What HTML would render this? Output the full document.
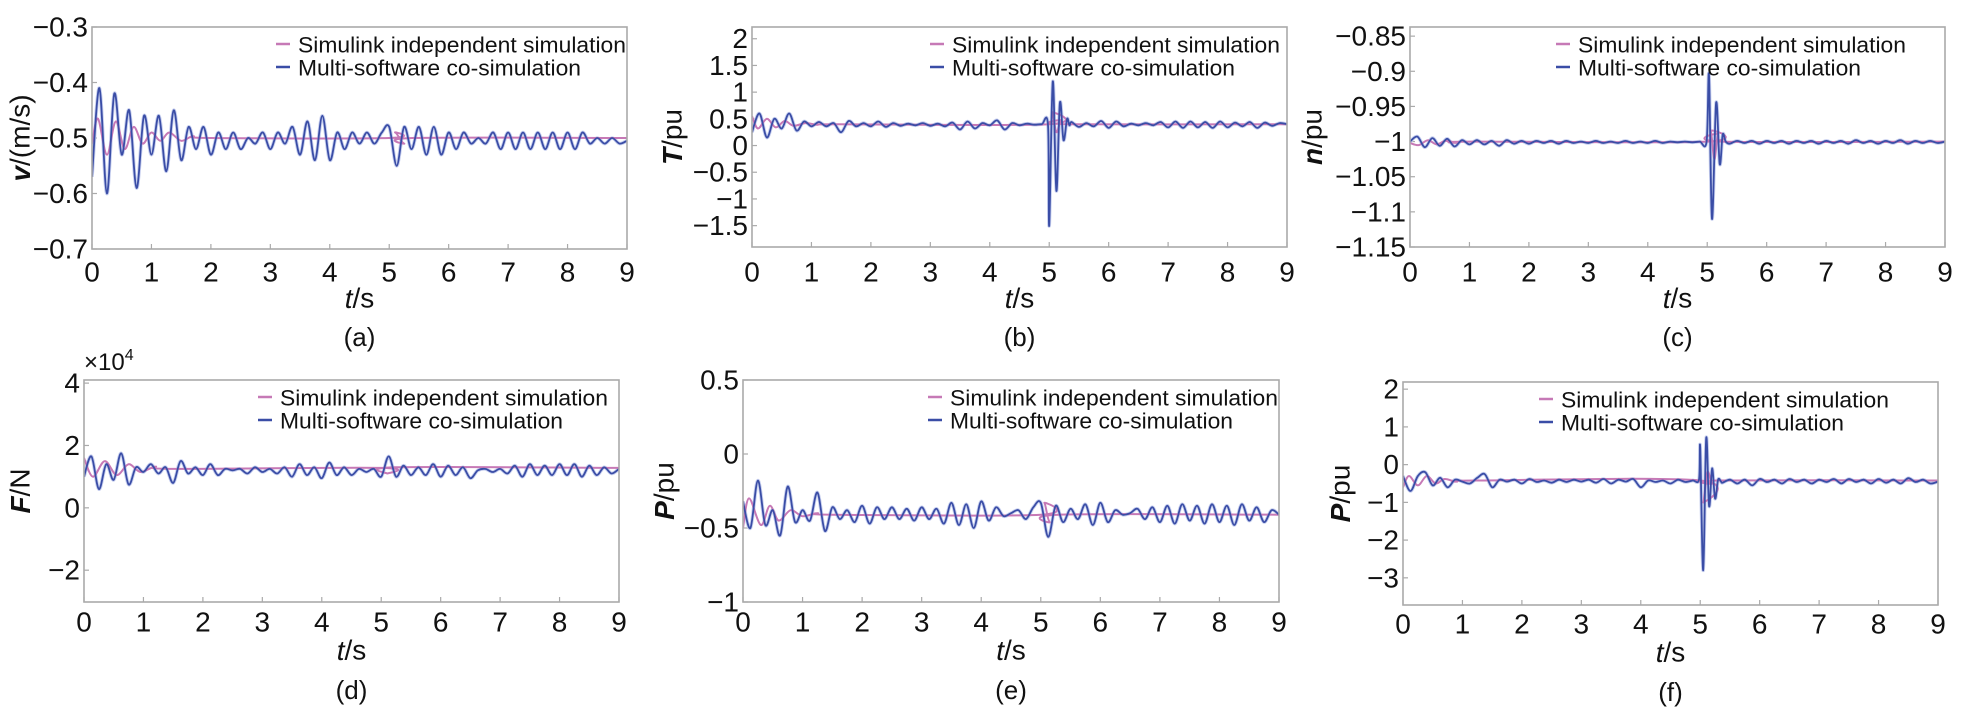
<!DOCTYPE html>
<html><head><meta charset="utf-8"><style>
html,body{margin:0;padding:0;background:#fff;}
svg{display:block;font-family:"Liberation Sans",sans-serif;}
</style></head><body>
<svg id="fig" width="1968" height="710" viewBox="0 0 1968 710" xmlns="http://www.w3.org/2000/svg"></svg>
<script>
// shared time grid (s)
const times = [0,0.125,0.25,0.375,0.5,0.625,0.75,0.875,1,1.125,1.25,1.375,1.5,1.625,1.75,1.875,2,2.125,2.25,2.375,2.5,2.625,2.75,2.875,3,3.125,3.25,3.375,3.5,3.625,3.75,3.875,4,4.125,4.25,4.375,4.5,4.625,4.75,4.875,5,5.125,5.25,5.375,5.5,5.625,5.75,5.875,6,6.125,6.25,6.375,6.5,6.625,6.75,6.875,7,7.125,7.25,7.375,7.5,7.625,7.75,7.875,8,8.125,8.25,8.375,8.5,8.625,8.75,8.875,9];
const xTicks = [0,1,2,3,4,5,6,7,8,9];

// (a) velocity
const aBlue = [-0.57,-0.41,-0.60,-0.42,-0.53,-0.45,-0.59,-0.46,-0.53,-0.46,-0.56,-0.45,-0.54,-0.48,-0.52,-0.48,-0.53,-0.49,-0.52,-0.49,-0.52,-0.50,-0.51,-0.49,-0.52,-0.49,-0.51,-0.48,-0.53,-0.47,-0.54,-0.46,-0.54,-0.49,-0.52,-0.49,-0.51,-0.49,-0.51,-0.49,-0.48,-0.55,-0.48,-0.52,-0.48,-0.53,-0.48,-0.53,-0.49,-0.52,-0.49,-0.51,-0.50,-0.51,-0.49,-0.52,-0.49,-0.52,-0.49,-0.52,-0.49,-0.52,-0.49,-0.52,-0.49,-0.52,-0.49,-0.51,-0.50,-0.51,-0.50,-0.51,-0.505];
const aPinkT = [0,0.1,0.25,0.4,0.55,0.7,0.85,1.0,1.15,1.3,1.5,1.7,2.0,5.0,5.1,5.25,5.4,9];
const aPink = [-0.51,-0.465,-0.53,-0.47,-0.52,-0.48,-0.51,-0.49,-0.505,-0.49,-0.505,-0.497,-0.50,-0.50,-0.49,-0.51,-0.50,-0.50];
const aTicks = [-0.3,-0.4,-0.5,-0.6,-0.7];

// (b) torque
const bBlue = [0.25,0.6,0.15,0.5,0.32,0.6,0.28,0.45,0.36,0.44,0.36,0.42,0.25,0.46,0.36,0.42,0.36,0.45,0.35,0.42,0.37,0.41,0.38,0.42,0.37,0.41,0.36,0.43,0.30,0.45,0.32,0.42,0.38,0.47,0.30,0.42,0.38,0.41,0.39,0.40,0.38,0.45,0.34,0.44,0.35,0.42,0.36,0.46,0.33,0.45,0.36,0.41,0.38,0.42,0.38,0.44,0.34,0.45,0.33,0.45,0.34,0.44,0.33,0.45,0.34,0.43,0.36,0.44,0.33,0.43,0.37,0.42,0.40];
const bSpikeT = [4.98,5.0,5.06,5.12,5.18,5.24,5.3,5.34];
const bSpike = [0.38,-1.5,1.2,-0.85,0.8,0.1,0.5,0.38];
const bPinkT = [0,0.1,0.25,0.4,0.55,0.7,0.9,1.1,1.4,5.0,5.05,5.12,5.2,5.3,9];
const bPink = [0.55,0.32,0.5,0.34,0.46,0.37,0.42,0.39,0.40,0.40,0.62,0.25,0.47,0.40,0.40];
const bTicks = [2,1.5,1,0.5,0,-0.5,-1,-1.5];

// (c) speed
const cBlue = [-1.0,-0.993,-1.008,-0.995,-1.006,-0.996,-1.007,-0.998,-1.004,-0.998,-1.004,-0.999,-1.006,-0.998,-1.003,-0.999,-1.003,-0.999,-1.002,-0.999,-1.003,-0.999,-1.002,-1.0,-1.002,-0.999,-1.002,-1.0,-1.002,-0.999,-1.002,-1.0,-1.002,-0.999,-1.002,-1.0,-1.001,-1.0,-1.001,-1.0,-1.0,-1.002,-0.999,-1.003,-0.999,-1.002,-0.999,-1.003,-0.999,-1.002,-0.999,-1.003,-0.999,-1.002,-0.999,-1.003,-0.999,-1.002,-0.999,-1.003,-0.998,-1.002,-0.999,-1.003,-0.999,-1.002,-0.998,-1.003,-0.999,-1.002,-0.999,-1.002,-1.0];
const cSpikeT = [4.99,5.03,5.08,5.15,5.21,5.26,5.31];
const cSpike = [-1.0,-0.905,-1.11,-0.945,-1.032,-0.99,-1.0];
const cPinkT = [0,0.15,0.3,0.45,0.6,0.8,1.0,5.0,5.06,5.12,5.18,5.25,9];
const cPink = [-1.002,-1.005,-0.998,-1.004,-0.999,-1.002,-1.0,-1.0,-0.985,-1.025,-0.99,-1.0,-1.0];
const cTicks = [-0.85,-0.9,-0.95,-1,-1.05,-1.1,-1.15];

// (d) force (x10^4)
const dBlue = [1.0,1.65,0.6,1.4,0.9,1.75,0.75,1.3,1.15,1.4,1.1,1.3,0.8,1.5,1.1,1.3,1.05,1.4,1.05,1.25,1.2,1.25,1.1,1.3,1.15,1.25,1.1,1.3,1.0,1.4,1.05,1.3,0.95,1.45,1.05,1.3,1.05,1.25,1.15,1.25,1.0,1.65,1.0,1.35,1.05,1.3,1.05,1.4,1.0,1.35,1.05,1.3,0.95,1.2,1.25,1.15,1.25,1.1,1.35,1.0,1.4,1.05,1.35,1.05,1.4,1.05,1.4,1.0,1.35,1.05,1.3,1.1,1.25];
const dPinkT = [0,0.15,0.35,0.55,0.75,0.95,1.2,1.5,5.0,5.1,5.25,9];
const dPink = [1.6,1.0,1.5,1.05,1.4,1.15,1.32,1.25,1.28,1.1,1.3,1.28];
const dTicks = [4,2,0,-2];

// (e) power
const eBlue = [-0.32,-0.5,-0.18,-0.48,-0.38,-0.55,-0.22,-0.46,-0.38,-0.45,-0.26,-0.52,-0.36,-0.44,-0.38,-0.46,-0.35,-0.47,-0.36,-0.44,-0.36,-0.44,-0.37,-0.45,-0.36,-0.44,-0.37,-0.47,-0.33,-0.48,-0.34,-0.50,-0.32,-0.45,-0.36,-0.42,-0.40,-0.38,-0.44,-0.36,-0.33,-0.56,-0.35,-0.46,-0.37,-0.44,-0.34,-0.48,-0.33,-0.46,-0.38,-0.41,-0.40,-0.37,-0.44,-0.36,-0.46,-0.35,-0.47,-0.34,-0.45,-0.35,-0.47,-0.34,-0.46,-0.35,-0.48,-0.34,-0.45,-0.36,-0.46,-0.38,-0.41];
const ePinkT = [0,0.1,0.3,0.45,0.6,0.8,1.0,1.25,1.5,5.0,5.06,5.15,5.3,9];
const ePink = [-0.5,-0.3,-0.48,-0.35,-0.45,-0.38,-0.42,-0.40,-0.41,-0.41,-0.33,-0.46,-0.41,-0.41];
const eTicks = [0.5,0,-0.5,-1];

// (f) power
const fBlue = [-0.3,-0.7,-0.3,-0.2,-0.55,-0.35,-0.6,-0.4,-0.45,-0.5,-0.35,-0.25,-0.6,-0.4,-0.45,-0.4,-0.5,-0.38,-0.46,-0.42,-0.48,-0.4,-0.46,-0.4,-0.45,-0.4,-0.48,-0.38,-0.5,-0.4,-0.45,-0.38,-0.6,-0.42,-0.46,-0.42,-0.5,-0.4,-0.46,-0.42,-0.4,-0.4,-0.42,-0.48,-0.4,-0.5,-0.4,-0.55,-0.38,-0.46,-0.4,-0.5,-0.38,-0.46,-0.4,-0.5,-0.4,-0.46,-0.38,-0.5,-0.38,-0.46,-0.4,-0.5,-0.38,-0.48,-0.4,-0.5,-0.36,-0.46,-0.4,-0.5,-0.45];
const fSpikeT = [4.98,5.0,5.05,5.1,5.15,5.2,5.25,5.3,5.35];
const fSpike = [-0.4,0.45,-2.8,0.7,-1.1,-0.1,-0.9,-0.4,-0.45];
const fPinkT = [0,0.1,0.25,0.4,0.55,0.7,0.9,1.2,5.0,5.05,5.12,5.2,5.3,9];
const fPink = [-0.6,-0.3,-0.55,-0.3,-0.5,-0.38,-0.45,-0.42,-0.42,-1.0,-0.2,-0.5,-0.42,-0.42];
const fTicks = [2,1,0,-1,-2,-3];

const NS = 'http://www.w3.org/2000/svg';
const svg = document.getElementById('fig');
function mk(tag, attrs, parent){
  const e = document.createElementNS(NS, tag);
  for (const k in attrs) e.setAttribute(k, attrs[k]);
  (parent||svg).appendChild(e);
  return e;
}
function pathFrom(pts){
  let d = 'M' + pts[0][0].toFixed(1) + ',' + pts[0][1].toFixed(1);
  for (let i = 0; i < pts.length - 1; i++){
    const p0 = pts[Math.max(0,i-1)], p1 = pts[i], p2 = pts[i+1], p3 = pts[Math.min(pts.length-1,i+2)];
    const c1x = p1[0] + (p2[0]-p0[0])/6, c1y = p1[1] + (p2[1]-p0[1])/6;
    const c2x = p2[0] - (p3[0]-p1[0])/6, c2y = p2[1] - (p3[1]-p1[1])/6;
    d += 'C' + c1x.toFixed(1)+','+c1y.toFixed(1)+' '+c2x.toFixed(1)+','+c2y.toFixed(1)+' '+p2[0].toFixed(1)+','+p2[1].toFixed(1);
  }
  return d;
}
function merge(t, v, st, sv){
  const pts = [];
  const n = Math.min(t.length, v.length);
  for (let i=0;i<n;i++){ if (!st || t[i] < st[0] || t[i] > st[st.length-1]) pts.push([t[i], v[i]]); }
  if (st) for (let i=0;i<Math.min(st.length,sv.length);i++) pts.push([st[i], sv[i]]);
  pts.sort((a,b)=>a[0]-b[0]);
  return pts;
}

const panels = [
  {id:'a', L:92, R:627, T:27, B:249, ymin:-0.7, ymax:-0.3, ticks:aTicks, fmt:v=>v.toFixed(1), blue:merge(times,aBlue), pink:merge(aPinkT,aPink), ylab:['v','/(m/s)'], ylx:20, legX:206, xlY:272, tsY:298, capY:337},
  {id:'b', L:752, R:1287, T:27, B:247, ymin:-1.9, ymax:2.22, ticks:bTicks, fmt:v=>String(v), blue:merge(times,bBlue,bSpikeT,bSpike), pink:merge(bPinkT,bPink), ylab:['T','/pu'], ylx:672, legX:200, xlY:272, tsY:298, capY:337},
  {id:'c', L:1410, R:1945, T:27, B:247, ymin:-1.15, ymax:-0.837, ticks:cTicks, fmt:v=>String(v), blue:merge(times,cBlue,cSpikeT,cSpike), pink:merge(cPinkT,cPink), ylab:['n','/pu'], ylx:1312, legX:168, xlY:272, tsY:298, capY:337},
  {id:'d', L:84, R:619, T:380, B:602, ymin:-3.02, ymax:4.1, ticks:dTicks, fmt:v=>String(v), blue:merge(times,dBlue), pink:merge(dPinkT,dPink), ylab:['F','/N'], ylx:20, legX:196, xlY:622, tsY:650, capY:690},
  {id:'e', L:743, R:1279, T:380, B:602, ymin:-1, ymax:0.5, ticks:eTicks, fmt:v=>String(v), blue:merge(times,eBlue), pink:merge(ePinkT,ePink), ylab:['P','/pu'], ylx:664, legX:207, xlY:622, tsY:650, capY:690},
  {id:'f', L:1403, R:1938, T:382, B:605, ymin:-3.72, ymax:2.19, ticks:fTicks, fmt:v=>String(v), blue:merge(times,fBlue,fSpikeT,fSpike), pink:merge(fPinkT,fPink), ylab:['P','/pu'], ylx:1340, legX:158, xlY:624, tsY:652, capY:692}
];

panels.forEach(p => {
  const g = mk('g', {});
  
  
  const xs = t => p.L + (t/9)*(p.R-p.L);
  const ys = v => p.B - (v - p.ymin)/(p.ymax - p.ymin)*(p.B-p.T);

  xTicks.forEach(t => {
    const x = xs(t);
    const tk = mk('line', {x1:x, x2:x, y1:p.B, y2:p.B-5, stroke:'#aaa', 'stroke-width':1.2}, g);
    
    
    const lb = mk('text', {x:x, y:p.xlY, 'font-size':28, 'text-anchor':'middle', 'dominant-baseline':'central', fill:'#111'}, g);
    lb.textContent = String(t);
    
    
  });
  p.ticks.forEach(v => {
    const y = ys(v);
    const tk = mk('line', {x1:p.L, x2:p.L+5, y1:y, y2:y, stroke:'#aaa', 'stroke-width':1.2}, g);
    
    
    const lb = mk('text', {x:p.L-4, y:y, 'font-size':28, 'text-anchor':'end', 'dominant-baseline':'central', fill:'#111'}, g);
    lb.textContent = p.fmt(v).replace('-', '\u2212');
    
    
  });

  const clipId = 'clip-' + p.id;
  const cp = mk('clipPath', {id:clipId}, g);
  mk('rect', {x:p.L, y:p.T, width:p.R-p.L, height:p.B-p.T}, cp);
  const pinkPts = p.pink.map(q => [xs(q[0]), ys(q[1])]);
  const bluePts = p.blue.map(q => [xs(q[0]), ys(q[1])]);
  const halo = mk('path', {d:pathFrom(bluePts), fill:'none', stroke:'#c8d0ef', 'stroke-width':3.6, 'stroke-linejoin':'round', 'clip-path':'url(#'+clipId+')'}, g);
  
  
  const pk = mk('path', {d:pathFrom(pinkPts), fill:'none', stroke:'#c679b6', 'stroke-width':2, 'stroke-linejoin':'round', 'clip-path':'url(#'+clipId+')'}, g);
  
  
  const bl = mk('path', {d:pathFrom(bluePts), fill:'none', stroke:'#3a4da6', 'stroke-width':1.8, 'stroke-linejoin':'round', 'clip-path':'url(#'+clipId+')'}, g);
  
  

  const fr = mk('rect', {x:p.L, y:p.T, width:p.R-p.L, height:p.B-p.T, fill:'none', stroke:'#aaa', 'stroke-width':1.6}, g);
  
  

  const lx = p.L + p.legX;
  const l1 = mk('line', {x1:lx-22, x2:lx-8, y1:p.T+17, y2:p.T+17, stroke:'#c679b6', 'stroke-width':2.5}, g);
  
  
  const t1 = mk('text', {x:lx, y:p.T+18, 'font-size':22, 'dominant-baseline':'central', fill:'#111', textLength:328, lengthAdjust:'spacingAndGlyphs'}, g);
  t1.textContent = 'Simulink independent simulation';
  
  
  const l2 = mk('line', {x1:lx-22, x2:lx-8, y1:p.T+40, y2:p.T+40, stroke:'#3a4da6', 'stroke-width':2.5}, g);
  
  
  const t2 = mk('text', {x:lx, y:p.T+41, 'font-size':22, 'dominant-baseline':'central', fill:'#111', textLength:283, lengthAdjust:'spacingAndGlyphs'}, g);
  t2.textContent = 'Multi-software co-simulation';
  
  

  const xt = mk('text', {x:(p.L+p.R)/2, y:p.tsY, 'font-size':28, 'text-anchor':'middle', 'dominant-baseline':'central', fill:'#111'}, g);
  xt.innerHTML = '<tspan font-style="italic">t</tspan>/s';
  
  
  const cy = (p.T+p.B)/2;
  const yt = mk('text', {x:p.ylx, y:cy, 'font-size':28, 'text-anchor':'middle', 'dominant-baseline':'central', fill:'#111', transform:'rotate(-90 '+p.ylx+' '+cy+')'}, g);
  yt.innerHTML = '<tspan font-style="italic" font-weight="bold">'+p.ylab[0]+'</tspan>'+p.ylab[1];
  
  
  const cap = mk('text', {x:(p.L+p.R)/2, y:p.capY, 'font-size':26, 'text-anchor':'middle', 'dominant-baseline':'central', fill:'#111'}, g);
  cap.textContent = '(' + p.id + ')';
  
  
});

const ex = mk('text', {x:84, y:370, 'font-size':24, fill:'#111'});
ex.innerHTML = '\u00d710<tspan dy="-10" font-size="16">4</tspan>';


</script>
</body></html>
